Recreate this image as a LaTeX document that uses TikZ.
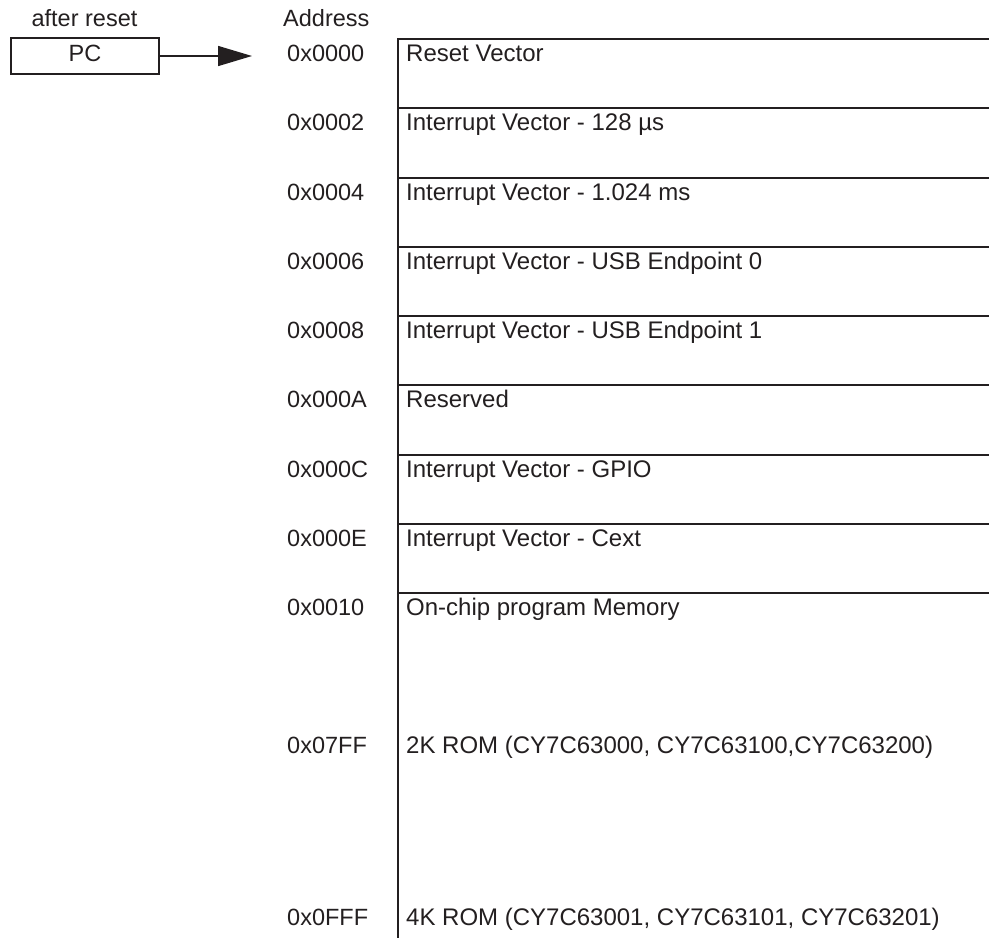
\documentclass[tikz,border=0pt]{standalone}
\usepackage{fontspec}
\setmainfont{Liberation Sans}
\usetikzlibrary{arrows.meta}
\definecolor{ink}{HTML}{231F20}
\tikzset{
  lbl/.style={anchor=base west, inner sep=0pt, text=ink, font=\fontsize{23.5}{28}\selectfont},
  desc/.style={anchor=base west, inner sep=0pt, text=ink, font=\fontsize{24}{28}\selectfont},
  hdr/.style={anchor=base, inner sep=0pt, text=ink, font=\fontsize{23.5}{28}\selectfont},
  pcbox/.style={draw=ink, line width=1.4pt, minimum width=148pt, minimum height=36pt, inner sep=0pt, text depth=4.8pt, text=ink, font=\fontsize{23.5}{28}\selectfont},
  rule/.style={draw=ink, line width=2pt},
  conn/.style={draw=ink, line width=1.5pt, -{Triangle[length=34pt,width=20pt]}}
}
\begin{document}
\begin{tikzpicture}[x=1pt,y=-1pt]
\useasboundingbox (0,0) rectangle (989,938);
% headers
\node[hdr] (after) at (84.5,26) {after reset};
\node[lbl] (addrhdr) at (283,26) {Address};
% PC box and arrow
\node[pcbox] (pc) at (85,56) {PC};
\coordinate (tip) at (252,56);
\draw[conn] (pc.east) -- (tip);
% memory map lines
\draw[rule] (398,39) -- (398,938);
\foreach \i in {0,...,8}{
  \draw[rule] (397,39+69.25*\i) -- (989,39+69.25*\i);
}
% rows
\foreach \a/\d [count=\i from 0] in {
  0x0000/Reset Vector,
  0x0002/Interrupt Vector - 128 µs,
  0x0004/Interrupt Vector - 1.024 ms,
  0x0006/Interrupt Vector - USB Endpoint 0,
  0x0008/Interrupt Vector - USB Endpoint 1,
  0x000A/Reserved,
  0x000C/Interrupt Vector - GPIO,
  0x000E/Interrupt Vector - Cext,
  0x0010/On-chip program Memory}{
  \node[lbl] (addr\i) at (287,61.5+69.25*\i) {\a};
  \node[desc] (desc\i) at (406,61.5+69.25*\i) {\d};
}
\node[lbl] (addr9) at (287,753) {0x07FF};
\node[desc] (desc9) at (406,753) {2K ROM (CY7C63000, CY7C63100,CY7C63200)};
\node[lbl] (addr10) at (287,925) {0x0FFF};
\node[desc] (desc10) at (406,925) {4K ROM (CY7C63001, CY7C63101, CY7C63201)};
\end{tikzpicture}
\end{document}
